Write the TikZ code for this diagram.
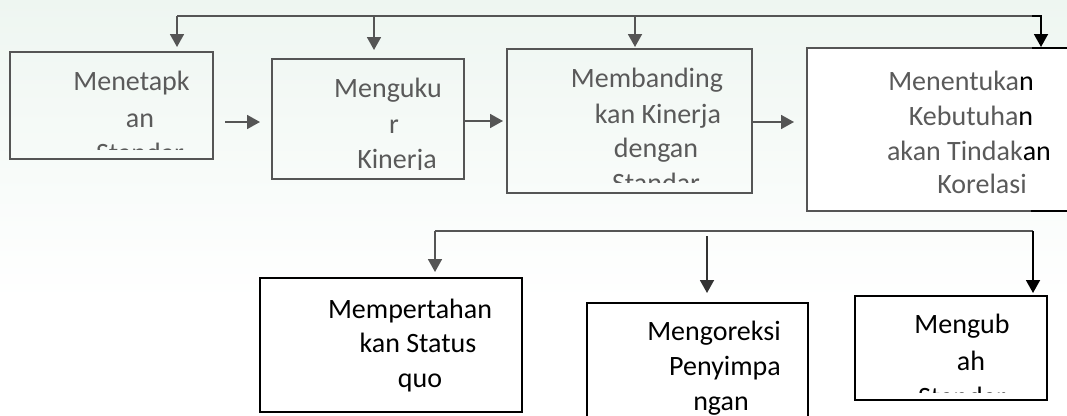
\documentclass[tikz,border=0pt]{standalone}
\usepackage{fontspec}
\setmainfont{Carlito}
\usetikzlibrary{arrows.meta}
\definecolor{linegray}{HTML}{555555}
\definecolor{textgray}{HTML}{5A5A5A}
\definecolor{mint}{HTML}{EEF6F1}
\begin{document}
\begin{tikzpicture}[x=1pt,y=-1pt,
  topbox/.style={draw=linegray, line width=1.8pt, inner sep=0pt, outer sep=0pt, anchor=north west},
  whitebox/.style={draw=linegray, fill=white, line width=1.8pt, inner sep=0pt, outer sep=0pt, anchor=north west},
  botbox/.style={draw=black, fill=white, line width=1.8pt, inner sep=0pt, outer sep=0pt, anchor=north west},
  toptext/.style={font=\fontsize{28}{34}\selectfont, text=textgray, anchor=base, inner sep=0pt},
  bottext/.style={font=\fontsize{28}{34}\selectfont, text=black, anchor=base, inner sep=0pt},
  grayline/.style={draw=linegray, line width=1.8pt},
  blackline/.style={draw=black, line width=1.8pt},
  grayarrow/.style={grayline, -{Triangle[length=13pt,width=14pt]}},
  blackarrow/.style={blackline, -{Triangle[length=13pt,width=14pt]}},
]
\useasboundingbox (0,0) rectangle (1067,415);
\clip (0,0) rectangle (1067,415);
\shade[top color=mint, bottom color=white] (0,0) rectangle (1067,300);
\fill[white] (0,300) rectangle (1067,415);

% top row boxes
\node[topbox, minimum width=203pt, minimum height=107pt] (b1) at (10,52) {};
\node[topbox, minimum width=192pt, minimum height=120pt] (b2) at (272,59) {};
\node[topbox, minimum width=245pt, minimum height=144pt] (b3) at (507,49) {};
\node[whitebox, minimum width=270pt, minimum height=163pt] (b4) at (807,48) {};
\draw[blackline] (1032,48) -- (b4.north east);
\draw[blackline] (1031,211) -- (b4.south east);

% bottom row boxes
\node[botbox, minimum width=262pt, minimum height=134pt] (b5) at (260,278) {};
\node[botbox, minimum width=221pt, minimum height=140pt] (b6) at (587,303) {};
\node[botbox, minimum width=192pt, minimum height=104pt] (b7) at (855,296) {};

% texts box 1
\begin{scope}
\clip (10,52) rectangle (213,149);
\node[toptext] (t1a) at (131.5,90) {Menetapk};
\node[toptext] (t1b) at (140,127) {an};
\node[toptext] (t1c) at (140,162) {Standar};
\end{scope}
% texts box 2
\begin{scope}
\clip (272,59) rectangle (464,169.5);
\node[toptext] (t2a) at (388,97) {Menguku};
\node[toptext] (t2b) at (394,133) {r};
\node[toptext] (t2c) at (397,168) {Kinerja};
\end{scope}
% texts box 3
\begin{scope}
\clip (507,49) rectangle (752,182);
\node[toptext] (t3a) at (647,87) {Membanding};
\node[toptext] (t3b) at (658,123) {kan Kinerja};
\node[toptext] (t3c) at (656,157) {dengan};
\node[toptext] (t3d) at (656,192) {Standar};
\end{scope}
% texts box 4
\node[toptext] (t4a) at (961,90) {Menentuka\textcolor{black}{n}};
\node[toptext] (t4b) at (971,125) {Kebutuha\textcolor{black}{n}};
\node[toptext] (t4c) at (969,160) {akan Tindak\textcolor{black}{an}};
\node[toptext] (t4d) at (982,193) {Korelasi};

% texts box 5
\node[bottext] (t5a) at (410,318) {Mempertahan};
\node[bottext] (t5b) at (418,352) {kan Status};
\node[bottext] (t5c) at (420,387) {quo};
% texts box 6
\node[bottext] (t6a) at (714,340) {Mengoreksi};
\node[bottext] (t6b) at (725,375) {Penyimpa};
\node[bottext] (t6c) at (721,410) {ngan};
% texts box 7
\begin{scope}
\clip (855,296) rectangle (1047,392);
\node[bottext] (t7a) at (962,333) {Mengub};
\node[bottext] (t7b) at (971,370) {ah};
\node[bottext] (t7c) at (962,406) {Standar};
\end{scope}

% feedback line on top
\coordinate (k1) at (177,16);
\coordinate (k2) at (374,16);
\coordinate (k3) at (635,16);
\coordinate (k4) at (1032,16);
\coordinate (k5) at (1041,16);
\coordinate (p1) at (177,47);
\coordinate (p2) at (374,50);
\coordinate (p3) at (635,47);
\coordinate (p4) at (1041,47);
\draw[grayline] (k1) -- (k4);
\draw[grayarrow] (k1) -- (p1);
\draw[grayarrow] (k2) -- (p2);
\draw[grayarrow] (k3) -- (p3);
\draw[blackarrow] (k4) -- (k5) -- (p4);

% arrows between top boxes
\coordinate (h1s) at (225,122);
\coordinate (h1e) at (260,122);
\coordinate (h2s) at (464,121);
\coordinate (h2e) at (503,121);
\coordinate (h3s) at (753,122);
\coordinate (h3e) at (794,122);
\draw[grayarrow] (h1s) -- (h1e);
\draw[grayarrow] (b2.east |- h2s) -- (h2e);
\draw[grayarrow] (h3s) -- (h3e);

% branch to bottom boxes
\coordinate (m1) at (435,231);
\coordinate (m2) at (1033,231);
\coordinate (q1) at (435,272);
\coordinate (q3) at (1033,293);
\coordinate (m3) at (707,236);
\coordinate (q2) at (707,293);
\draw[grayline] (m1) -- (m2);
\draw[grayarrow] (m1) -- (q1);
\draw[blackarrow] (m2) -- (q3);
\draw[draw=black!80, line width=1.8pt, -{Triangle[length=13pt,width=14pt]}] (m3) -- (q2);
\end{tikzpicture}
\end{document}
